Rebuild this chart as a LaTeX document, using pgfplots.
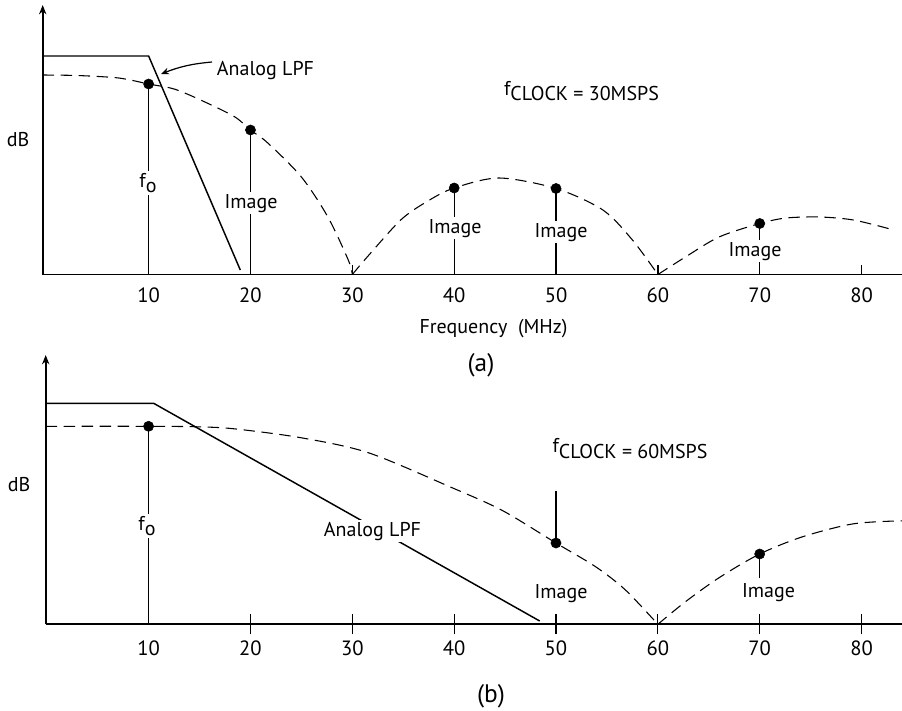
\documentclass[border=0pt]{standalone}
\usepackage{fontspec}
\setmainfont{PT Sans}
\usepackage{pgfplots}
\pgfplotsset{compat=1.18}
\usetikzlibrary{arrows.meta}
\newcommand{\fs}{\fontsize{15}{18}\selectfont}
\newcommand{\ft}{\fontsize{15.5}{18}\selectfont}
\newcommand{\fb}{\fontsize{19}{22}\selectfont}
\pgfplotsset{
  common/.style={
    x=7.639pt, y=0.75pt,
    axis lines=left, enlargelimits=false, clip=false,
    x axis line style={-, line width=1.4pt},
    y axis line style={-{Stealth[length=7pt,width=5.5pt]}, line width=1.4pt},
    ytick=\empty, xmax=84, ymin=0,
    xticklabel style={font=\ft, anchor=center},
    /pgf/number format/assume math mode=true,
    tick style={black, line width=0.9pt},
  },
  dsh/.style={black, line width=0.8pt, dash pattern=on 8.5pt off 5pt, smooth},
  lpf/.style={black, line width=1.1pt},
  stem/.style={black, line width=0.9pt},
  dot/.style={black, only marks, mark=*, mark size=3.8pt},
}
\begin{document}
\begin{tikzpicture}
\useasboundingbox (0,0) rectangle (676.5pt,-532.5pt);
% ---------------- (a) ----------------
\begin{axis}[common, at={(42.7*0.75pt,-274.5*0.75pt)}, anchor=south west,
  xmin=-0.4, ymax=269.5,
  xtick={10,20,...,80}, tick align=inside, major tick length=7.5pt,
  xticklabel style={yshift=-15.4pt}]
\addplot[lpf] coordinates {(-0.4,218.5) (10,218.5) (19,4.5)};
\addplot[dsh] coordinates {(-0.4,199.5)(3,199)(6.6,197)(8.2,194.5)(10,190.5)(12.5,185.5)(15.1,174.5)(18.4,158)(20,144.5)(21.7,131.5)(25,97.5)(27.6,57.5)(29.6,14.5)(30,0)};
\addplot[dsh] coordinates {(30,0)(31.5,18)(34.8,55)(37.5,74)(40,86.5)(44.4,96.5)(50,86)(54.6,64.5)(57.5,34.5)(60,0)};
\addplot[dsh] coordinates {(60,0)(62.7,17.5)(66,37.5)(70,51)(72.6,56.5)(75.9,57.5)(79.2,54.5)(82.8,45.5)};
\addplot[stem, ycomb] coordinates {(10,190.5)(20,144.5)(40,86.5)(50,86)(70,51)};
\addplot[dot] coordinates {(10,190.5)(20,144.5)(40,86.5)(50,86)(70,51)};
\end{axis}
% ---------------- (b) ----------------
\begin{axis}[common, at={(45.7*0.75pt,-624.3*0.75pt)}, anchor=south west,
  xmin=-0.1, ymax=269.3,
  xtick={20,30,...,80}, tick align=center, major tick length=15pt,
  extra x ticks={10}, extra x tick style={major tick style={draw=none}},
  xticklabel style={yshift=-10.7pt}]
\addplot[lpf] coordinates {(-0.1,221) (10.5,221) (48.4,3.3)};
\addplot[dsh] coordinates {(-0.1,198)(10,198)(14.8,197.5)(18.4,195.5)(25,186.5)(31.6,171.5)(39.7,137)(44.7,114)(50,81.3)(53.9,57.5)(56.8,34.5)(60,0)};
\addplot[dsh] coordinates {(60,0)(62.7,22.5)(66,46.5)(70,70.3)(74.2,87.5)(79.2,100.5)(84,103.5)};
\addplot[stem, ycomb] coordinates {(10,198)};
\addplot[stem] coordinates {(50,81.3)(50,133)};
\addplot[stem] coordinates {(70,46)(70,70.3)};
\addplot[dot] coordinates {(10,198)(50,81.3)(70,70.3)};
\end{axis}
% ---------------- text ----------------
\begin{scope}[x=0.75pt,y=-0.75pt]
\tikzset{lab/.style={font=\fs, anchor=base, inner sep=1.5pt}, wl/.style={lab, fill=white}}
% (a)
\node[lab] at (18,146) {dB};
\node[lab] at (265.5,75) {Analog LPF};
\draw[line width=0.9pt, -{Stealth[length=6pt,width=5pt]}] (212,62) to[bend right=8] (161,74);
\node[wl] at (148,187) {f\raisebox{-4pt}{o}};
\node[wl] at (251,208) {Image};
\node[wl] at (455,233) {Image};
\node[wl] at (561,237) {Image};
\node[wl] at (755,256) {Image};
\node[lab] at (581.5,100.7) {\raisebox{4pt}{f}CLOCK = 30MSPS};
\node[lab] at (493.5,333) {Frequency\ \ (MHz)};
\node[lab, font=\fb] at (481,371) {(a)};
% (b)
\node[lab] at (19,491) {dB};
\node[wl] at (147,530) {f\raisebox{-4pt}{o}};
\node[wl] at (372.5,536) {Analog LPF};
\node[lab] at (630,458) {\raisebox{4pt}{f}CLOCK = 60MSPS};
\node[wl] at (561,598) {Image};
\node[wl] at (768.5,597) {Image};
\node[lab, font=\fb] at (491,702) {(b)};
\end{scope}
\end{tikzpicture}
\end{document}
